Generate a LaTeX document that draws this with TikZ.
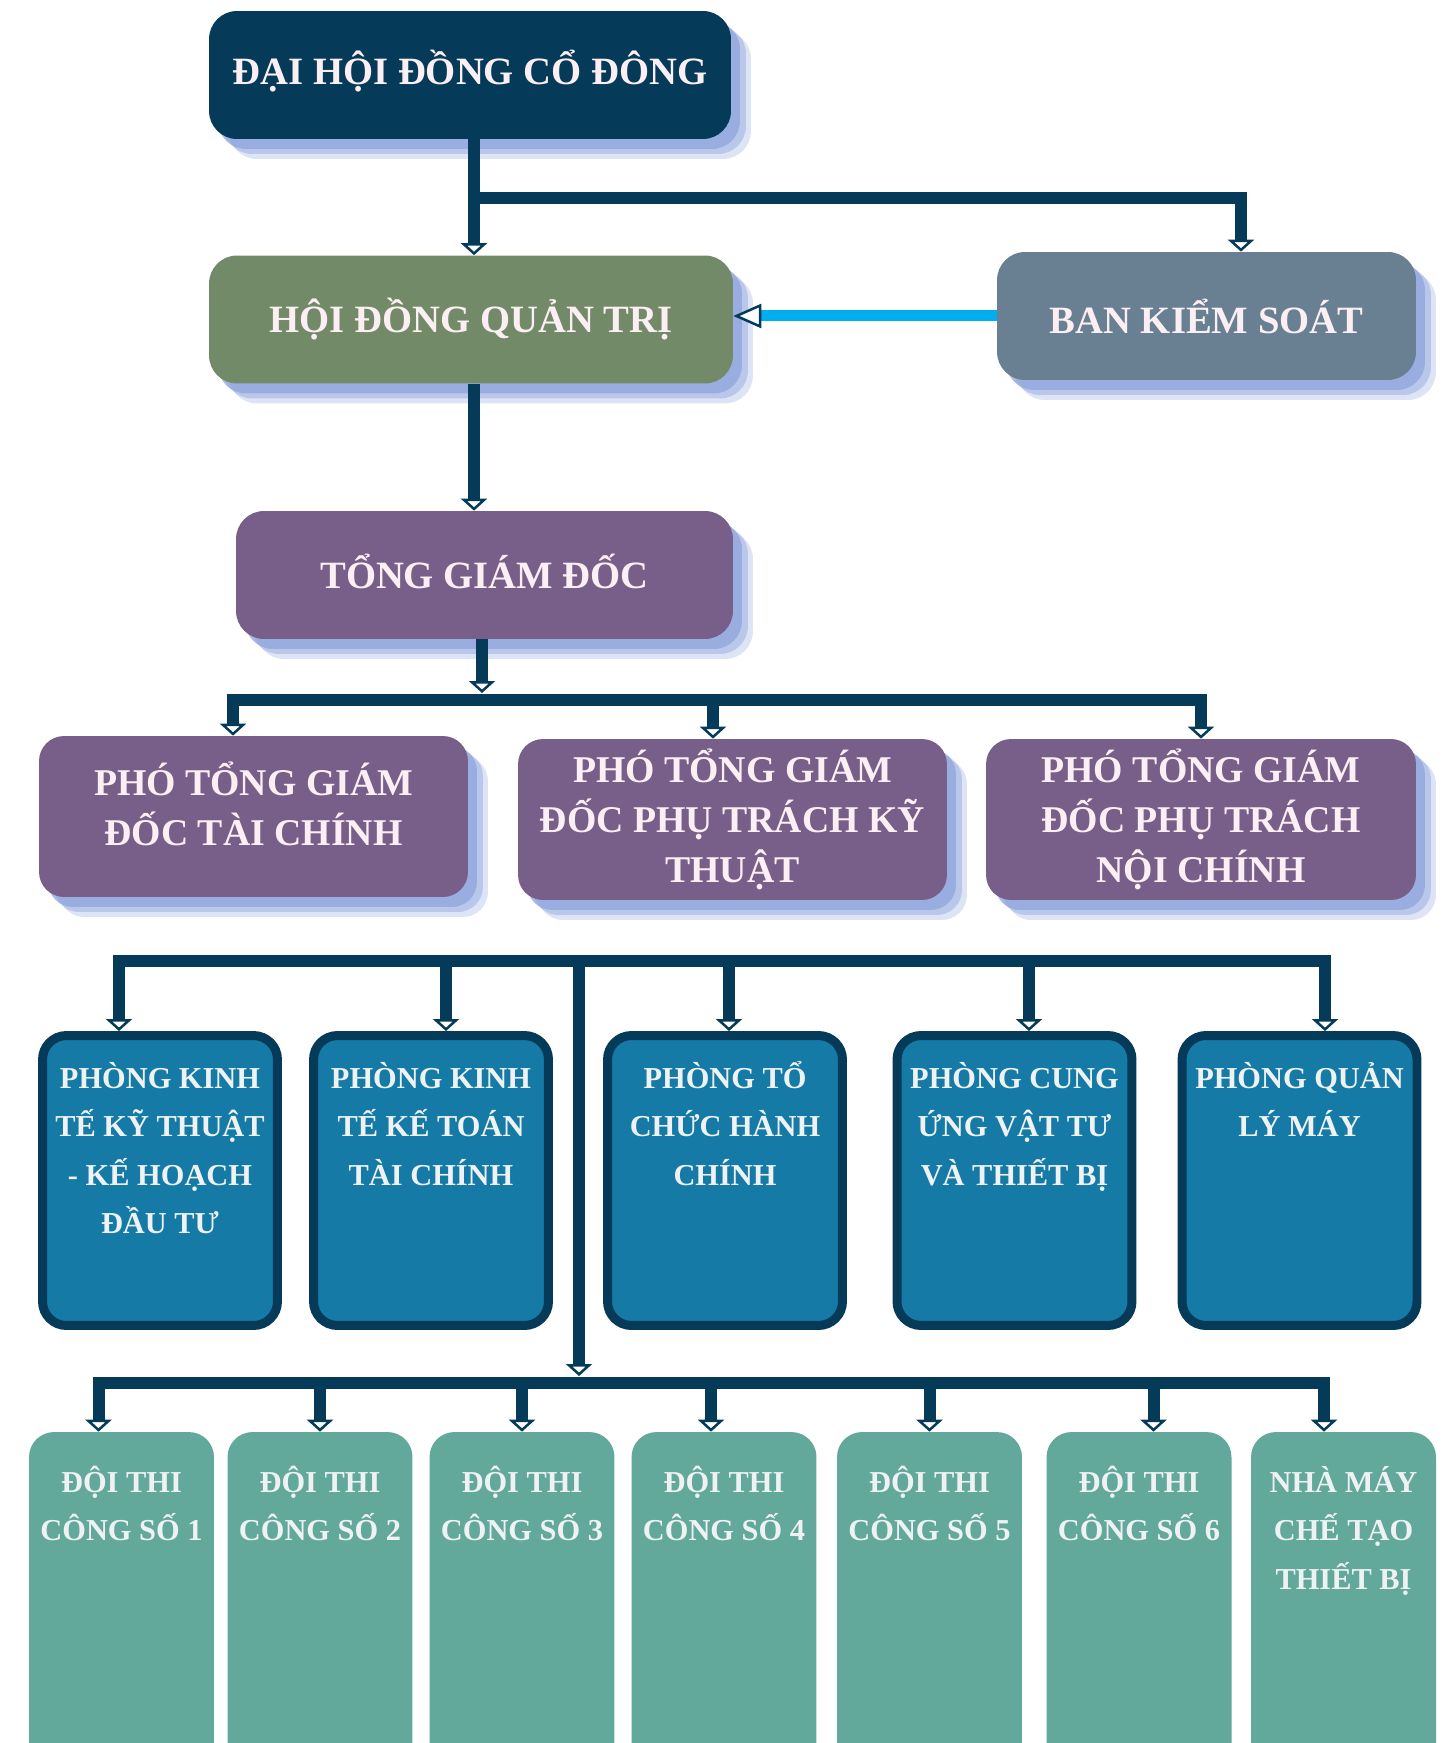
\documentclass[tikz,border=0pt]{standalone}
\usepackage{fontspec}
\setmainfont{Liberation Serif}
\usepackage{xcolor}
\usepackage{tikz}
\usetikzlibrary{arrows.meta}
\usetikzlibrary{shadows}
\definecolor{navy}{HTML}{053B58}
\definecolor{boardgreen}{HTML}{738A69}
\definecolor{slate}{HTML}{697F92}
\definecolor{plum}{HTML}{785F8A}
\definecolor{deptblue}{HTML}{167AA7}
\definecolor{teamgreen}{HTML}{62A89B}
\definecolor{sky}{HTML}{00AEEF}
\definecolor{glow}{HTML}{8EA4DD}
\definecolor{pinktext}{HTML}{FBEFF3}
\definecolor{greytext}{HTML}{EFF2F2}
\newcommand{\toplines}[1]{\begin{tabular}[t]{@{}c@{}}#1\end{tabular}}
\tikzstyle{glowshadow}=[drop shadow={fill=glow, opacity=0.3, shadow xshift=0.4cm, shadow yshift=-0.4cm}, drop shadow={fill=glow, opacity=0.45, shadow xshift=0.3cm, shadow yshift=-0.3cm}, drop shadow={fill=glow, opacity=0.75, shadow xshift=0.18cm, shadow yshift=-0.2cm}]
\tikzstyle{headnode}=[shape=rectangle, rounded corners=0.56cm, glowshadow, text=pinktext, align=center, font=\bfseries\fontsize{22}{27}\selectfont, minimum height=2.56cm]
\tikzstyle{vpnode}=[shape=rectangle, rounded corners=0.5cm, glowshadow, fill=plum, text=pinktext, align=center, font=\bfseries\fontsize{21.5}{28.5}\selectfont, minimum width=8.58cm, minimum height=3.22cm]
\tikzstyle{deptnode}=[shape=rectangle, rounded corners=0.48cm, fill=deptblue, draw=navy, line width=0.18cm, text=greytext, font=\bfseries\fontsize{17.3}{27.6}\selectfont, inner sep=0pt, minimum width=4.7cm, text height=1.05cm, text depth=4.75cm]
\tikzstyle{teamnode}=[shape=rectangle, rounded corners=0.5cm, fill=teamgreen, text=greytext, font=\bfseries\fontsize{17.3}{27.6}\selectfont, inner sep=0pt, minimum width=3.7cm, text height=1.2cm, text depth=5.96cm]
\tikzstyle{link}=[navy, line width=0.24cm, -{Triangle[length=0.24cm, width=0.52cm, fill=white, line width=0.05cm]}]
\tikzstyle{feedback}=[sky, line width=0.22cm, -{Triangle[length=0.56cm, width=0.48cm, fill=white, color=navy, line width=0.05cm]}]

\begin{document}
\begin{tikzpicture}[x=0.02cm, y=-0.02cm]
\useasboundingbox (0,0) rectangle (1449,1743);

\node [headnode, fill=navy, minimum width=10.44cm, text depth=0.32cm] (dhcd) at (470,75) {ĐẠI HỘI ĐỒNG CỔ ĐÔNG};
\node [headnode, fill=boardgreen, minimum width=10.48cm] (hdqt) at (471,319.5) {HỘI ĐỒNG QUẢN TRỊ};
\node [headnode, fill=slate, minimum width=8.38cm] (bks) at (1206.5,316) {BAN KIỂM SOÁT};
\node [headnode, fill=plum, minimum width=9.94cm, text depth=0.14cm] (tgd) at (484.5,575) {TỔNG GIÁM ĐỐC};

\node [vpnode, text depth=0.52cm] (ptc) at (253.5,816.5) {PHÓ TỔNG GIÁM\\ĐỐC TÀI CHÍNH};
\node [vpnode] (pkt) at (732.5,819.5) {PHÓ TỔNG GIÁM\\ĐỐC PHỤ TRÁCH KỸ\\THUẬT};
\node [vpnode, minimum width=8.6cm] (pnc) at (1201,819.5) {PHÓ TỔNG GIÁM\\ĐỐC PHỤ TRÁCH\\NỘI CHÍNH};

\node [deptnode] (kths) at (160,1180.5) {\toplines{PHÒNG KINH\\TẾ KỸ THUẬT\\- KẾ HOẠCH\\ĐẦU TƯ}};
\node [deptnode] (ktkt) at (431,1180.5) {\toplines{PHÒNG KINH\\TẾ KẾ TOÁN\\TÀI CHÍNH}};
\node [deptnode] (tchc) at (725,1180.5) {\toplines{PHÒNG TỔ\\CHỨC HÀNH\\CHÍNH}};
\node [deptnode] (cung) at (1014.5,1180.5) {\toplines{PHÒNG CUNG\\ỨNG VẬT TƯ\\VÀ THIẾT BỊ}};
\node [deptnode] (qlmay) at (1299.5,1180.5) {\toplines{PHÒNG QUẢN\\LÝ MÁY}};

\node [teamnode] (doi1) at (121.5,1611) {\toplines{ĐỘI THI\\CÔNG SỐ 1}};
\node [teamnode] (doi2) at (320,1611) {\toplines{ĐỘI THI\\CÔNG SỐ 2}};
\node [teamnode] (doi3) at (522,1611) {\toplines{ĐỘI THI\\CÔNG SỐ 3}};
\node [teamnode] (doi4) at (724,1611) {\toplines{ĐỘI THI\\CÔNG SỐ 4}};
\node [teamnode] (doi5) at (929.5,1611) {\toplines{ĐỘI THI\\CÔNG SỐ 5}};
\node [teamnode] (doi6) at (1139,1611) {\toplines{ĐỘI THI\\CÔNG SỐ 6}};
\node [teamnode] (nhamay) at (1343.5,1611) {\toplines{NHÀ MÁY\\CHẾ TẠO\\THIẾT BỊ}};

\coordinate (split) at (474,198);
\coordinate (vpbus) at (482,700);
\coordinate (deptbus) at (579,961);
\coordinate (teambus) at (579,1383);

\draw[link] ([xshift=0.08cm]dhcd.south) -- ([xshift=0.08cm]dhcd.south |- hdqt.north);
\draw[link] (split) -| ([xshift=0.69cm]bks.north);
\draw[feedback] (bks.west) -- (bks.west -| hdqt.east);
\draw[link] ([xshift=0.06cm]hdqt.south) -- ([xshift=0.06cm]hdqt.south |- tgd.north);

\draw[link] ([xshift=-0.05cm]tgd.south) -- ([xshift=-0.05cm, yshift=0.14cm]tgd.south |- vpbus);
\draw[link] (vpbus) -| ([xshift=-0.41cm]ptc.north);
\draw[link] (vpbus) -| ([xshift=-0.39cm]pkt.north);
\draw[link] (vpbus) -| (pnc.north);

\draw[link] (deptbus) -| ([xshift=-0.82cm]kths.north);
\draw[link] (deptbus) -| ([xshift=0.3cm]ktkt.north);
\draw[link] (deptbus) -| ([xshift=0.08cm]tchc.north);
\draw[link] (deptbus) -| ([xshift=0.29cm]cung.north);
\draw[link] (deptbus) -| ([xshift=0.51cm]qlmay.north);
\draw[link] (deptbus) -- ([yshift=0.14cm]deptbus |- teambus);

\draw[link] (teambus) -| ([xshift=-0.46cm]doi1.north);
\draw[link] (teambus) -| (doi2.north);
\draw[link] (teambus) -| (doi3.north);
\draw[link] (teambus) -| ([xshift=-0.26cm]doi4.north);
\draw[link] (teambus) -| (doi5.north);
\draw[link] (teambus) -| ([xshift=0.29cm]doi6.north);
\draw[link] (teambus) -| ([xshift=-0.39cm]nhamay.north);
\end{tikzpicture}
\end{document}
